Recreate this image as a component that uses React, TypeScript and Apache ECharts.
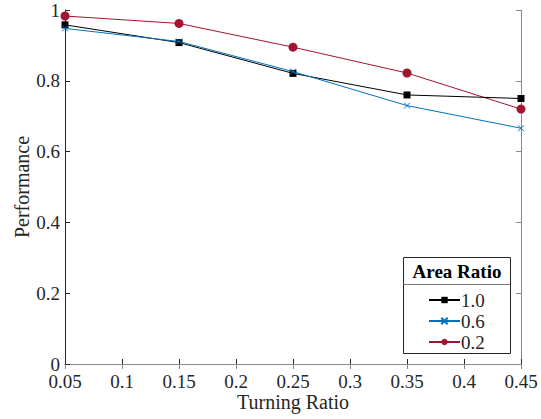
import React, { useEffect, useRef } from "react";
import * as echarts from "echarts";

const turningRatio = [0.05, 0.15, 0.25, 0.35, 0.45];
const perf10 = [0.958, 0.908, 0.821, 0.76, 0.75];
const perf06 = [0.948, 0.911, 0.826, 0.73, 0.666];
const perf02 = [0.983, 0.962, 0.895, 0.822, 0.72];
const seriesNames = ["1.0", "0.6", "0.2"];
const legendTitle = "Area Ratio";
const xTitle = "Turning Ratio";
const yTitle = "Performance";

const FONT = "Liberation Serif";
const AXIS = "#262626";
const BOX = "#8a8a8a";

export default function App() {
  const ref = useRef<HTMLDivElement>(null);
  useEffect(() => {
    if (!ref.current) return;
    const chart = echarts.init(ref.current, undefined, { renderer: "svg" });
    const pair = (ys: number[]) => turningRatio.map((x, i) => [x, ys[i]]);
    const axisCommon = (c: string) => ({
      axisLine: { show: true, lineStyle: { color: c, width: 1 } },
      axisTick: { show: true, inside: true, length: 5, lineStyle: { color: c } },
      splitLine: { show: false },
    });
    const xFmt = (v: number) => String(parseFloat(v.toFixed(2)));
    const yFmt = (v: number) => String(parseFloat(v.toFixed(1)));
    chart.setOption({
      animation: false,
      textStyle: { fontFamily: FONT },
      grid: { left: 65, right: 20, top: 10, bottom: 55, outerBoundsMode: "none", containLabel: false },
      xAxis: [
        {
          type: "value", min: 0.05, max: 0.45, interval: 0.05, position: "bottom",
          ...axisCommon(AXIS),
          axisLabel: { formatter: xFmt, fontSize: 19, lineHeight: 16, color: AXIS, fontFamily: FONT, margin: 9 },
          name: xTitle, nameLocation: "middle", nameGap: 28, nameMoveOverlap: false,
          nameTextStyle: { fontSize: 20, color: AXIS, fontFamily: FONT },
        },
        {
          type: "value", min: 0.05, max: 0.45, interval: 0.05, position: "top",
          ...axisCommon(BOX), axisLabel: { show: false },
        },
      ],
      yAxis: [
        {
          type: "value", min: 0, max: 1, interval: 0.2, position: "left",
          ...axisCommon(AXIS),
          axisLabel: { formatter: yFmt, fontSize: 19, lineHeight: 16, color: AXIS, fontFamily: FONT, margin: 5 },
          name: yTitle, nameLocation: "middle", nameGap: 33, nameRotate: 90, nameMoveOverlap: false,
          nameTextStyle: { fontSize: 20, color: AXIS, fontFamily: FONT },
        },
        {
          type: "value", min: 0, max: 1, interval: 0.2, position: "right",
          ...axisCommon(BOX), axisLabel: { show: false },
        },
      ],
      legend: {
        data: seriesNames,
        orient: "vertical",
        left: 428,
        top: 290,
        padding: 0,
        itemWidth: 31,
        itemHeight: 8,
        itemGap: 1,
        z: 10,
        textStyle: { fontSize: 19, lineHeight: 20, color: AXIS, fontFamily: FONT, padding: [0, 0, 0, -4] },
      },
      graphic: [
        {
          type: "rect", z: 1,
          shape: { x: 403.5, y: 257.5, width: 107, height: 96 },
          style: { fill: "#fff", stroke: AXIS, lineWidth: 1 },
        },
        {
          type: "line", z: 2,
          shape: { x1: 403.5, y1: 284.5, x2: 510.5, y2: 284.5 },
          style: { stroke: "#777", lineWidth: 1 },
        },
        {
          type: "text", z: 3, x: 457, y: 271,
          style: {
            text: legendTitle, fontFamily: FONT, fontWeight: "bold", fontSize: 19,
            fill: "#000", align: "center", verticalAlign: "middle",
          },
        },
      ],
      series: [
        {
          name: seriesNames[0], type: "line", data: pair(perf10),
          symbol: "rect", symbolSize: 7,
          lineStyle: { color: "#000", width: 1 },
          itemStyle: { color: "#000" },
          z: 3,
        },
        {
          name: seriesNames[1], type: "line", data: pair(perf06),
          symbol: "path://M0,0L10,10M10,0L0,10", symbolSize: 6,
          lineStyle: { color: "#0072BD", width: 1 },
          itemStyle: { color: "#0072BD", borderColor: "#0072BD", borderWidth: 1 },
          z: 4,
        },
        {
          name: seriesNames[2], type: "line", data: pair(perf02),
          symbol: "circle", symbolSize: 9,
          lineStyle: { color: "#A2142F", width: 1 },
          itemStyle: { color: "#A2142F" },
          z: 2,
        },
      ],
    });
    return () => chart.dispose();
  }, []);
  return (
    <div
      ref={ref}
      style={{ position: "absolute", left: 0, top: 0, width: 541, height: 419, background: "#fff" }}
    />
  );
}
